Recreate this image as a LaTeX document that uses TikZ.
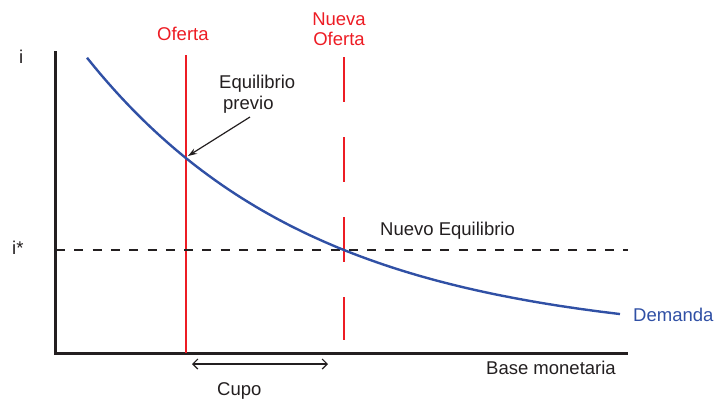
\documentclass[tikz,border=0pt]{standalone}
\usepackage{fontspec}
\setmainfont{Liberation Sans}
\usetikzlibrary{arrows.meta}
\definecolor{ofred}{RGB}{237,28,36}
\definecolor{demblue}{RGB}{48,80,165}
\definecolor{txtgray}{RGB}{35,31,32}
\begin{document}
\begin{tikzpicture}[x=1pt,y=-1pt,
  lbl/.style={inner sep=0pt,anchor=base west,text=txtgray,font=\fontsize{18.5}{22}\selectfont},
  axisline/.style={line width=3pt,draw=txtgray},
  supply/.style={line width=2.4pt,draw=ofred},
  demand/.style={line width=2.4pt,draw=demblue},
  pointer/.style={line width=1.2pt,draw=txtgray}]
\useasboundingbox (0,0) rectangle (716,402);
% axes
\coordinate (ytop) at (55,51);
\coordinate (orig) at (55,353);
\coordinate (xend) at (628,353);
\draw[axisline] (ytop) -- (orig) -- (xend);
% supply lines
\coordinate (s1top) at (186,55);
\coordinate (s1bot) at (186,353);
\draw[supply] (s1top) -- (s1bot);
\coordinate (s2top) at (344,57);
\coordinate (s2bot) at (344,340);
\draw[supply,dash pattern=on 45pt off 35pt] (s2top) -- (s2bot);
% dashed i*
\coordinate (hstart) at (56,250);
\coordinate (hend) at (628,250);
\draw[line width=2pt,draw=txtgray,dash pattern=on 9pt off 9.3pt] (hstart) -- (hend);
% demand curve
\draw[demand] plot[domain=87:620,samples=80] (\x,{340.8-415.9*exp(-\x/226)});
% labels
\node[lbl] (li) at (19,63) {i};
\node[lbl] (listar) at (12,254) {i*};
\node[lbl,text=ofred] (loferta) at (157,40) {Oferta};
\node[lbl,text=ofred,anchor=base] (lnueva) at (339,25) {Nueva};
\node[lbl,text=ofred,anchor=base] (lnueva2) at (339,45) {Oferta};
\node[lbl] (leq) at (219,88) {Equilibrio};
\node[lbl] (lprev) at (223,109) {previo};
\node[lbl] (lnew) at (380,235) {Nuevo Equilibrio};
\node[lbl,text=demblue] (ldem) at (633,321) {Demanda};
\node[lbl] (lbase) at (486,374) {Base monetaria};
\node[lbl] (lcupo) at (217,395) {Cupo};
% pointer arrow
\coordinate (eqprev) at (188,156);
\coordinate (ptail) at (250,117);
\draw[pointer,-{Stealth[length=9pt,width=6pt]}] (ptail) -- (eqprev);
% cupo arrow
\coordinate (ca) at (192,364);
\coordinate (cb) at (328,364);
\draw[pointer,{Straight Barb[length=5pt,width=10pt]}-{Straight Barb[length=5pt,width=10pt]}] (ca) -- (cb);
\end{tikzpicture}
\end{document}
